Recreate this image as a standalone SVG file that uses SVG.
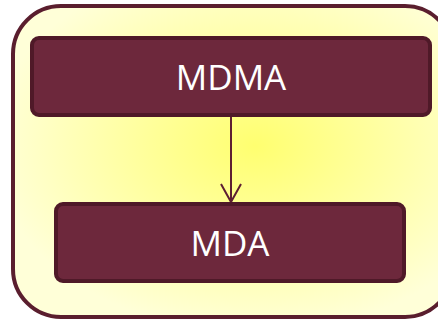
<svg xmlns="http://www.w3.org/2000/svg" width="438" height="322" viewBox="0 0 438 322">
<defs>
<radialGradient id="bg" cx="0.55" cy="0.45" r="0.6">
<stop offset="0" stop-color="#ffff70"/>
<stop offset="1" stop-color="#ffffd8"/>
</radialGradient>
<marker id="arr" viewBox="0 0 20 22" refX="19" refY="11" markerWidth="20" markerHeight="22" markerUnits="userSpaceOnUse" orient="auto">
<path d="M1 1 L19 11 L1 21" fill="none" stroke="#5e1f32" stroke-width="2"/>
</marker>
<style>
.box{fill:#6d283c;stroke:#4f1928;stroke-width:4}
.lbl{font-family:"Open Sans","Liberation Sans",sans-serif;font-size:35px;fill:#ffffff;text-anchor:middle}
</style>
</defs>
<g id="container">
<rect x="13" y="6" width="440" height="311" rx="48" fill="url(#bg)" stroke="#5a1e2e" stroke-width="4"/>
</g>
<g id="connectors">
<path d="M231 116 L231 202" fill="none" stroke="#5e1f32" stroke-width="2" marker-end="url(#arr)"/>
</g>
<g id="mdma">
<rect class="box" x="32" y="38" width="398" height="77" rx="7"/>
<text class="lbl" x="231" y="90">MDMA</text>
</g>
<g id="mda">
<rect class="box" x="56" y="204" width="348" height="77" rx="7"/>
<text class="lbl" x="230" y="256">MDA</text>
</g>
</svg>
